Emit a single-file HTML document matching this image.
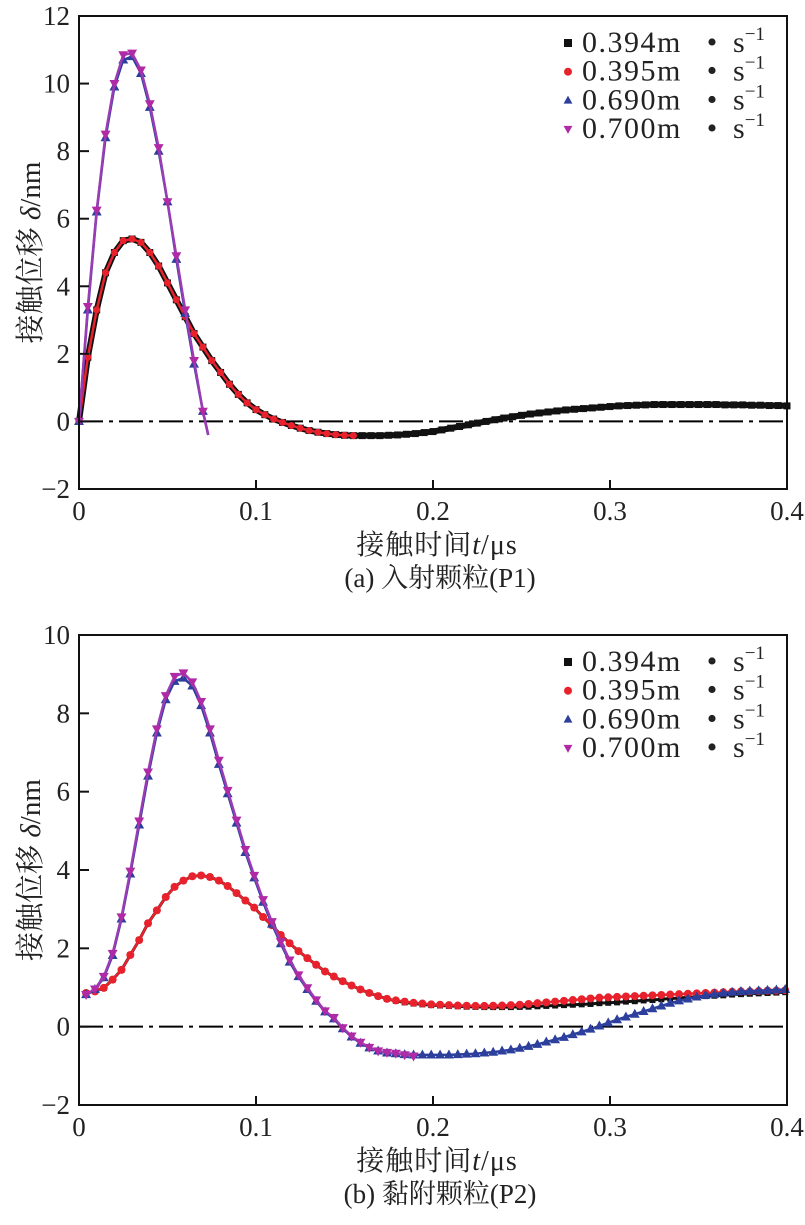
<!DOCTYPE html>
<html><head><meta charset="utf-8">
<style>
body{margin:0;background:#fff;}
svg{display:block;font-family:"Liberation Serif","Noto Serif CJK SC","Noto Sans CJK SC",serif;}
</style></head>
<body>
<svg id="fig" width="805" height="1225" viewBox="0 0 805 1225" xmlns="http://www.w3.org/2000/svg"></svg>
<script>
// ---------- chart (a) data ----------
const a_xTicks = [0, 0.1, 0.2, 0.3, 0.4];
const a_xTickLabels = ["0", "0.1", "0.2", "0.3", "0.4"];
const a_yTicks = [-2, 0, 2, 4, 6, 8, 10, 12];
const a_yTickLabels = ["\u22122", "0", "2", "4", "6", "8", "10", "12"];
const a_t_step = 0.005;
const a_black = [0,1.9,3.3,4.4,5.0,5.35,5.4,5.3,5.0,4.6,4.1,3.6,3.1,2.6,2.2,1.8,1.45,1.1,0.8,0.55,0.35,0.2,0.07,-0.03,-0.12,-0.2,-0.27,-0.32,-0.36,-0.39,-0.41,-0.42,
 -0.42,-0.42,-0.42,-0.41,-0.40,-0.38,-0.36,-0.33,-0.3,-0.25,-0.2,-0.15,-0.1,-0.05,0,0.05,0.1,0.14,0.18,0.22,0.25,0.28,0.31,0.34,0.36,0.38,0.4,0.42,0.44,0.46,0.47,0.48,0.49,0.5,0.5,0.5,0.5,0.5,0.5,0.5,0.5,0.49,0.49,0.49,0.48,0.48,0.47,0.47,0.46];
const a_red = [0,1.9,3.3,4.4,5.0,5.35,5.4,5.3,5.0,4.6,4.1,3.6,3.1,2.6,2.2,1.8,1.45,1.1,0.8,0.55,0.35,0.2,0.07,-0.03,-0.12,-0.2,-0.27,-0.32,-0.36,-0.39,-0.41,-0.42];
const a_blue_t = [0,0.005,0.01,0.015,0.02,0.025,0.03,0.035,0.04,0.045,0.05,0.055,0.06,0.065,0.07,0.073];
const a_blue = [0,3.3,6.2,8.4,9.9,10.7,10.8,10.3,9.3,8.0,6.5,4.8,3.2,1.7,0.3,-0.4];
const a_mag_t = [0,0.005,0.01,0.015,0.02,0.025,0.03,0.035,0.04,0.045,0.05,0.055,0.06,0.065,0.07,0.073];
const a_mag = [0,3.4,6.25,8.5,10.0,10.85,10.9,10.4,9.4,8.1,6.5,4.9,3.3,1.8,0.3,-0.4];

// ---------- chart (b) data ----------
const b_xTicks = [0, 0.1, 0.2, 0.3, 0.4];
const b_xTickLabels = ["0", "0.1", "0.2", "0.3", "0.4"];
const b_yTicks = [-2, 0, 2, 4, 6, 8, 10];
const b_yTickLabels = ["\u22122", "0", "2", "4", "6", "8", "10"];
const b_t_start = 0.004;
const b_t_step = 0.005;
const b_red = [0.86,0.9,0.99,1.2,1.45,1.83,2.21,2.64,2.97,3.31,3.57,3.73,3.84,3.86,3.82,3.73,3.59,3.41,3.22,3.04,2.8,2.59,2.34,2.13,1.93,1.75,1.58,1.41,1.28,1.16,1.05,0.95,0.86,0.78,0.71,0.67,
 0.64,0.61,0.59,0.57,0.56,0.55,0.54,0.535,0.53,0.53,0.535,0.54,0.55,0.56,0.58,0.6,0.62,0.64,0.66,0.68,0.7,0.72,0.74,0.75,0.76,0.77,0.78,0.79,0.8,0.81,0.82,0.83,0.84,0.85,0.86,0.87,0.88,0.89,0.9,0.9,0.91,0.92,0.92,0.93];
const b_black = [0.86,0.9,0.99,1.2,1.45,1.83,2.21,2.64,2.97,3.31,3.57,3.73,3.84,3.86,3.82,3.73,3.59,3.41,3.22,3.04,2.8,2.59,2.34,2.13,1.93,1.75,1.58,1.41,1.28,1.16,1.05,0.95,0.86,0.78,
 0.71,0.66,0.62,0.59,0.57,0.55,0.54,0.53,0.52,0.51,0.505,0.5,0.5,0.5,0.5,0.505,0.51,0.52,0.53,0.54,0.55,0.56,0.57,0.58,0.6,0.61,0.62,0.64,0.65,0.67,0.68,0.7,0.72,0.73,0.75,0.76,0.78,0.79,0.8,0.82,0.83,0.84,0.85,0.86,0.87,0.88];
const b_blue = [0.82,0.95,1.25,1.82,2.75,3.9,5.15,6.4,7.5,8.35,8.82,8.9,8.7,8.2,7.5,6.7,5.95,5.2,4.45,3.8,3.18,2.62,2.12,1.65,1.28,0.95,0.65,0.38,0.2,-0.05,-0.26,-0.42,-0.54,-0.62,-0.67,-0.69,
 -0.71,-0.72,-0.72,-0.72,-0.72,-0.72,-0.71,-0.7,-0.69,-0.67,-0.65,-0.62,-0.59,-0.55,-0.5,-0.45,-0.39,-0.33,-0.27,-0.2,-0.13,-0.06,0.02,0.1,0.18,0.25,0.32,0.39,0.46,0.53,0.6,0.66,0.71,0.76,0.8,0.83,0.86,0.88,0.9,0.91,0.92,0.93,0.94,0.95];
const b_mag = [0.82,0.96,1.28,1.87,2.8,3.97,5.25,6.5,7.6,8.45,8.94,9.03,8.8,8.3,7.6,6.8,6.03,5.27,4.52,3.86,3.24,2.68,2.17,1.7,1.32,0.99,0.68,0.4,0.23,-0.03,-0.24,-0.4,-0.53,-0.62,-0.66,-0.68,-0.72,-0.75];

const legendLabels = ["0.394m", "0.395m", "0.690m", "0.700m"];

const NS = "http://www.w3.org/2000/svg";
const svg = document.getElementById('fig');
function mk(tag, attrs, parent){
  const e = document.createElementNS(NS, tag);
  for (const k in attrs) e.setAttribute(k, attrs[k]);
  (parent||svg).appendChild(e);
  return e;
}
const COL = {black:"#111", red:"#e8222c", blue:"#2c3f9c", mag:"#b02aa6"};

function marker(g, type, x, y, s){
  let e;
  if (type==="sq") e = mk('rect',{x:x-s/2,y:y-s/2,width:s,height:s,fill:COL.black},g);
  else if (type==="ci") e = mk('circle',{cx:x,cy:y,r:s/2,fill:COL.red},g);
  else if (type==="tu") e = mk('polygon',{points:`${x},${y-s*0.6} ${x-s*0.55},${y+s*0.4} ${x+s*0.55},${y+s*0.4}`,fill:COL.blue},g);
  else e = mk('polygon',{points:`${x},${y+s*0.6} ${x-s*0.55},${y-s*0.4} ${x+s*0.55},${y-s*0.4}`,fill:COL.mag},g);
  
  
  return e;
}

function chart(cfg){
  const {x0,x1,yTop,yBot,ymin,ymax,id} = cfg;
  const X = t => x0 + (t-0)/(0.4-0)*(x1-x0);
  const Y = v => yBot - (v-ymin)/(ymax-ymin)*(yBot-yTop);
  const g = mk('g',{});
  
  
  const z = mk('line',{x1:x0,x2:x1,y1:Y(0),y2:Y(0),stroke:"#000","stroke-width":2,"stroke-dasharray":"24 6 4 6"},g);
  
  
  cfg.series.forEach(s=>{
    const sg = mk('g',{},g);
    
    
    const pts = s.v.map((v,i)=>[X(s.t[i]),Y(v)]);
    const p = mk('polyline',{points:pts.map(p=>p.join(',')).join(' '),fill:"none",stroke:s.lc,"stroke-width":s.lw,"stroke-linejoin":"round"},sg);
    
    
    const n = s.noLastMarker ? pts.length-1 : pts.length;
    for (let i=0;i<n;i++) marker(sg, s.m, pts[i][0], pts[i][1], s.ms);
  });
  const box = mk('rect',{x:x0,y:yTop,width:x1-x0,height:yBot-yTop,fill:"none",stroke:"#111","stroke-width":2},g);
  
  
  cfg.xTicks.forEach((t,i)=>{
    const x = X(t);
    if (i>0 && i<cfg.xTicks.length-1){
      const tk = mk('line',{x1:x,x2:x,y1:yBot,y2:yBot-9,stroke:"#111","stroke-width":2},g);
      
      
    }
    const tx = mk('text',{x:x,y:yBot+31,"font-size":27,"text-anchor":"middle",fill:"#222"},g);
    tx.textContent = cfg.xTickLabels[i];
    
    
  });
  cfg.yTicks.forEach((v,i)=>{
    const y = Y(v);
    if (i>0 && i<cfg.yTicks.length-1){
      const tk = mk('line',{x1:x0,x2:x0+10,y1:y,y2:y,stroke:"#111","stroke-width":2},g);
      
      
    }
    const tx = mk('text',{x:x0-9,y:y+9,"font-size":27,"text-anchor":"end",fill:"#222"},g);
    tx.textContent = cfg.yTickLabels[i];
    
    
  });
  const xt = mk('text',{x:437,y:yBot+65,"font-size":28,"text-anchor":"middle",fill:"#222","letter-spacing":"1"},g);
  xt.innerHTML = '接触时间<tspan font-style="italic">t</tspan>/μs';
  
  
  const cap = mk('text',{x:440,y:yBot+98,"font-size":27,"text-anchor":"middle",fill:"#222"},g);
  cap.textContent = cfg.caption;
  
  
  const cy = (yTop+yBot)/2;
  const yt = mk('text',{x:0,y:0,"font-size":29,"text-anchor":"middle",fill:"#222",transform:`translate(40,${cy}) rotate(-90)`},g);
  yt.innerHTML = '接触位移 <tspan font-style="italic">δ</tspan>/nm';
  
  
  const lg = mk('g',{},g);
  
  
  const types = ["sq","ci","tu","td"];
  legendLabels.forEach((lab,i)=>{
    const ly = yTop + 27 + i*28.7;
    const eg = mk('g',{},lg);
    
    
    marker(eg, types[i], 568, ly, 8);
    const tx = mk('text',{x:582,y:ly+9,"font-size":30,fill:"#222","letter-spacing":"1.5"},eg);
    tx.textContent = lab;
    const dot = mk('text',{x:712,y:ly+9,"font-size":30,fill:"#222","text-anchor":"middle"},eg);
    dot.textContent = "\u2022";
    const s1 = mk('text',{x:733,y:ly+9,"font-size":30,fill:"#222"},eg);
    s1.innerHTML = 's<tspan dy="-12" font-size="19">\u22121</tspan>';
  });
}

const a_t_black = a_black.map((_,i)=>i*a_t_step);
const a_t_red = a_red.map((_,i)=>i*a_t_step);
chart({id:'a',x0:79,x1:787,yTop:16,yBot:489,ymin:-2,ymax:12,
  xTicks:a_xTicks,xTickLabels:a_xTickLabels,yTicks:a_yTicks,yTickLabels:a_yTickLabels,
  caption:'(a) 入射颗粒(P1)',
  series:[
    {name:'0.394',t:a_t_black,v:a_black,lc:COL.black,lw:6,m:'sq',ms:7},
    {name:'0.395',t:a_t_red,v:a_red,lc:COL.red,lw:2.5,m:'ci',ms:7},
    {name:'0.690',t:a_blue_t,v:a_blue,lc:COL.blue,lw:2.5,m:'tu',ms:9,noLastMarker:true},
    {name:'0.700',t:a_mag_t,v:a_mag,lc:"#9c3cb4",lw:2.5,m:'td',ms:9,noLastMarker:true}
  ]});

const bt = arr => arr.map((_,i)=>b_t_start + i*b_t_step);
chart({id:'b',x0:79,x1:787,yTop:635,yBot:1105,ymin:-2,ymax:10,
  xTicks:b_xTicks,xTickLabels:b_xTickLabels,yTicks:b_yTicks,yTickLabels:b_yTickLabels,
  caption:'(b) 黏附颗粒(P2)',
  series:[
    {name:'0.394',t:bt(b_black),v:b_black,lc:COL.black,lw:3,m:'sq',ms:6},
    {name:'0.395',t:bt(b_red),v:b_red,lc:COL.red,lw:2.5,m:'ci',ms:8},
    {name:'0.690',t:bt(b_blue),v:b_blue,lc:COL.blue,lw:2.5,m:'tu',ms:9},
    {name:'0.700',t:bt(b_mag),v:b_mag,lc:"#9c3cb4",lw:2.5,m:'td',ms:9}
  ]});
</script>
</body></html>
